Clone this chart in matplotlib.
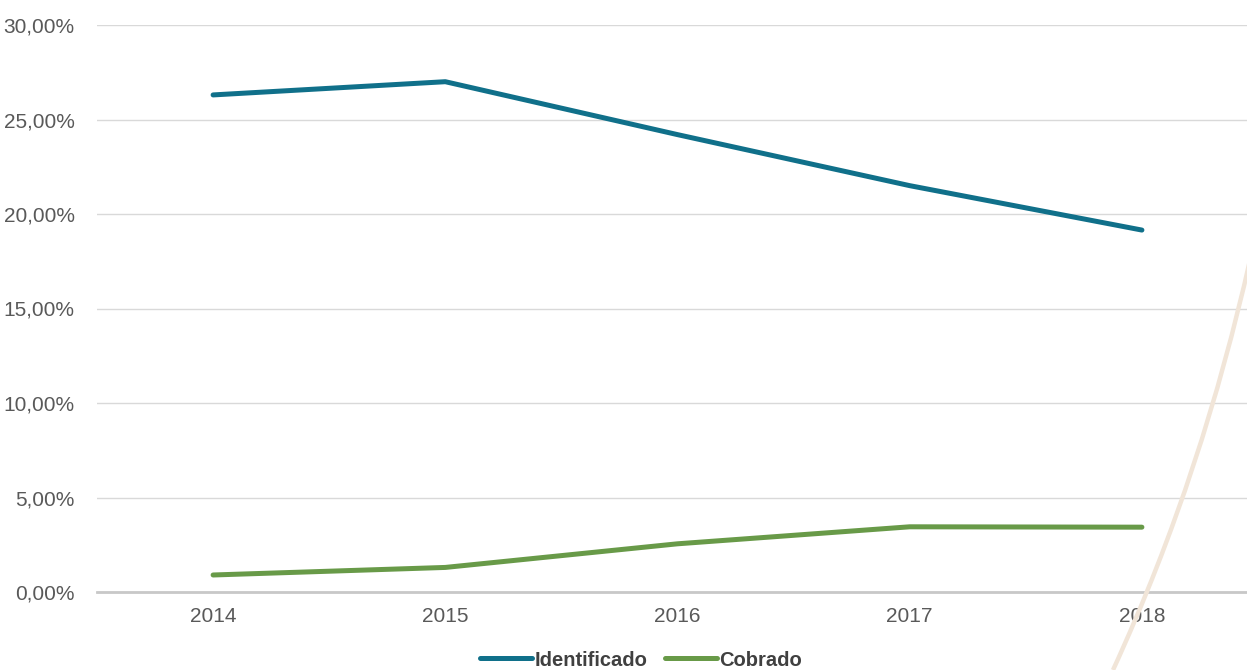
import matplotlib.pyplot as plt
from matplotlib.path import Path
from matplotlib.patches import PathPatch
from matplotlib.ticker import FuncFormatter

years = ['2014', '2015', '2016', '2017', '2018']
identificado = [26.3, 27.0, 24.2, 21.5, 19.15]
cobrado = [0.9, 1.3, 2.55, 3.45, 3.43]

plt.rcParams['font.family'] = ['Liberation Sans', 'DejaVu Sans']

W, H = 1247, 670
fig = plt.figure(figsize=(W / 100, H / 100), dpi=100)
ax = fig.add_axes([97 / W, 78 / H, 1161 / W, 567 / H])

# decorative arc at the right (pixel coords from top-left)
pts = [(1113, 670), (1176, 533), (1219, 397), (1250, 260)]
verts = [(px / W, 1 - py / H) for px, py in pts]
arc = PathPatch(Path(verts, [Path.MOVETO, Path.CURVE4, Path.CURVE4, Path.CURVE4]),
                transform=fig.transFigure, fill=False, edgecolor='#f1e5d8', lw=3.2, zorder=0)
fig.patches.append(arc)

x = range(len(years))
ax.plot(x, identificado, color='#10708a', lw=3.6, solid_capstyle='round', label='Identificado', zorder=3)
ax.plot(x, cobrado, color='#689a48', lw=3.6, solid_capstyle='round', label='Cobrado', zorder=3)

ax.set_xlim(-0.5, 4.5)
ax.set_ylim(0, 30)
ax.set_yticks(range(0, 31, 5))
ax.yaxis.set_major_formatter(FuncFormatter(lambda v, p: f'{v:.2f}'.replace('.', ',') + '%'))
ax.set_xticks(list(x))
ax.set_xticklabels(years)
ax.grid(axis='y', color='#d9d9d9', lw=1)
ax.set_axisbelow(True)
for s in ['top', 'right', 'left']:
    ax.spines[s].set_visible(False)
ax.spines['bottom'].set_color('#c8c8c8')
ax.spines['bottom'].set_linewidth(2)
ax.spines['bottom'].set_zorder(1)
ax.tick_params(length=0, labelsize=15, labelcolor='#595959')
ax.tick_params(axis='y', pad=16)
ax.tick_params(axis='x', pad=11)
ax.patch.set_alpha(0)

leg = fig.legend(loc='center', bbox_to_anchor=(641 / W, 1 - 660 / H), ncol=2, frameon=False,
                 prop={'size': 14.5, 'weight': 'bold'}, handlelength=2.6, handletextpad=0.1,
                 columnspacing=0.9)
for t in leg.get_texts():
    t.set_color('#404040')
for h in leg.legend_handles:
    h.set_solid_capstyle('round')

fig.savefig('out.png', dpi=100)
